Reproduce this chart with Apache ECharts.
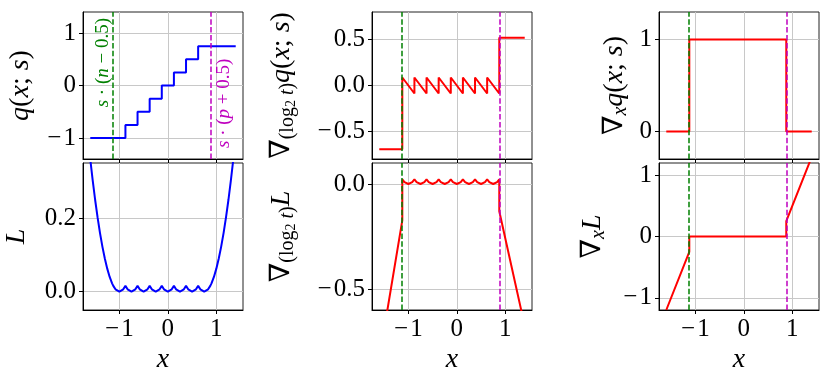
<!DOCTYPE html>
<html>
<head>
<meta charset="utf-8">
<script src="https://cdn.jsdelivr.net/npm/echarts@6/dist/echarts.min.js"></script>
<style>
html, body { margin: 0; padding: 0; background: #fff; }
#chart { width: 831px; height: 381px; }
</style>
</head>
<body>
<div id="chart"></div>
<script>
// clipping borders: s*(n-0.5) and s*(p+0.5)
var clipLo = -1.125, clipHi = 0.875;

var xTicks = [-1, 0, 1];

// q(x; s)
var qX = [-1.6, -0.875, -0.625, -0.375, -0.125, 0.125, 0.375, 0.625, 1.4];
var qY = [-1, -0.75, -0.5, -0.25, 0, 0.25, 0.5, 0.75, 0.75];

// L
var lossX = [
	-1.6, -1.55, -1.5, -1.45, -1.4, -1.35, -1.3, -1.25, -1.2, -1.15,
	-1.125, -1.08, -1.04, -1, -0.96, -0.92,
	-0.875, -0.83, -0.79, -0.75, -0.71, -0.67,
	-0.625, -0.58, -0.54, -0.5, -0.46, -0.42,
	-0.375, -0.33, -0.29, -0.25, -0.21, -0.17,
	-0.125, -0.08, -0.04, 0, 0.04, 0.08,
	0.125, 0.17, 0.21, 0.25, 0.29, 0.33,
	0.375, 0.42, 0.46, 0.5, 0.54, 0.58,
	0.625, 0.67, 0.71, 0.75, 0.79, 0.83,
	0.875, 0.9, 0.95, 1, 1.05, 1.1, 1.15, 1.2, 1.25, 1.3, 1.35, 1.4
];
var lossY = [
	0.36, 0.3025, 0.25, 0.2025, 0.16, 0.1225, 0.09, 0.0625, 0.04, 0.0225,
	0.0156, 0.0064, 0.0016, 0, 0.0016, 0.0064,
	0.0156, 0.0064, 0.0016, 0, 0.0016, 0.0064,
	0.0156, 0.0064, 0.0016, 0, 0.0016, 0.0064,
	0.0156, 0.0064, 0.0016, 0, 0.0016, 0.0064,
	0.0156, 0.0064, 0.0016, 0, 0.0016, 0.0064,
	0.0156, 0.0064, 0.0016, 0, 0.0016, 0.0064,
	0.0156, 0.0064, 0.0016, 0, 0.0016, 0.0064,
	0.0156, 0.0064, 0.0016, 0, 0.0016, 0.0064,
	0.0156, 0.0225, 0.04, 0.0625, 0.09, 0.1225, 0.16, 0.2025, 0.25, 0.3025, 0.36, 0.4225
];

// grad wrt log2 t of q
var gqX = [-1.6, -1.125, -1.125, -0.875, -0.875, -0.625, -0.625, -0.375, -0.375,
	-0.125, -0.125, 0.125, 0.125, 0.375, 0.375, 0.625, 0.625, 0.875, 0.875, 1.4];
var gqY = [-0.693, -0.693, 0.087, -0.087, 0.087, -0.087, 0.087, -0.087, 0.087,
	-0.087, 0.087, -0.087, 0.087, -0.087, 0.087, -0.087, 0.087, -0.087, 0.52, 0.52];

// grad wrt log2 t of L
var gLX = [
	-1.6, -1.125,
	-1.125, -1.08, -1.04, -1, -0.96, -0.92,
	-0.875, -0.83, -0.79, -0.75, -0.71, -0.67,
	-0.625, -0.58, -0.54, -0.5, -0.46, -0.42,
	-0.375, -0.33, -0.29, -0.25, -0.21, -0.17,
	-0.125, -0.08, -0.04, 0, 0.04, 0.08,
	0.125, 0.17, 0.21, 0.25, 0.29, 0.33,
	0.375, 0.42, 0.46, 0.5, 0.54, 0.58,
	0.625, 0.67, 0.71, 0.75, 0.79, 0.83,
	0.875, 0.875, 1.4
];
var gLY = [
	-0.832, -0.173,
	0.0217, 0.0089, 0.0022, 0, 0.0022, 0.0089,
	0.0217, 0.0089, 0.0022, 0, 0.0022, 0.0089,
	0.0217, 0.0089, 0.0022, 0, 0.0022, 0.0089,
	0.0217, 0.0089, 0.0022, 0, 0.0022, 0.0089,
	0.0217, 0.0089, 0.0022, 0, 0.0022, 0.0089,
	0.0217, 0.0089, 0.0022, 0, 0.0022, 0.0089,
	0.0217, 0.0089, 0.0022, 0, 0.0022, 0.0089,
	0.0217, 0.0089, 0.0022, 0, 0.0022, 0.0089,
	0.0217, -0.13, -0.676
];

// grad wrt x of q
var dqX = [-1.6, -1.125, -1.125, 0.875, 0.875, 1.4];
var dqY = [0, 0, 1, 1, 0, 0];

// grad wrt x of L
var dLX = [-1.6, -1.125, -1.125, 0.875, 0.875, 1.4];
var dLY = [-1.2, -0.25, 0, 0, 0.25, 1.3];

var serif = '"Liberation Serif", "DejaVu Serif", serif';
var green = '#008000', magenta = '#bf00bf';

var nameRich = {
	n: { fontSize: 28, fontFamily: serif, lineHeight: 32, color: '#000' },
	i: { fontSize: 28, fontFamily: serif, fontStyle: 'italic', lineHeight: 32, color: '#000' },
	s: { fontSize: 20, fontFamily: serif, lineHeight: 15, verticalAlign: 'bottom', color: '#000' },
	si: { fontSize: 20, fontFamily: serif, fontStyle: 'italic', lineHeight: 15, verticalAlign: 'bottom', color: '#000' },
	ss: { fontSize: 14, fontFamily: serif, lineHeight: 6, verticalAlign: 'bottom', color: '#000' }
};

var grids = [
	{ left: 83, top: 12 }, { left: 83, top: 163 },
	{ left: 372, top: 12 }, { left: 372, top: 163 },
	{ left: 659, top: 12 }, { left: 659, top: 163 }
].map(function (g) {
	return { left: g.left, top: g.top, width: 160, height: 147, show: true,
		borderColor: '#222', borderWidth: 1, backgroundColor: 'transparent' };
});

function fmt(dec) {
	return function (v) {
		var s = Math.abs(v).toFixed(dec);
		return (v < 0 ? '\u2212\u200a' : '') + s;
	};
}

function xAxis(i, bottom) {
	return {
		type: 'value', gridIndex: i, min: -1.75, max: 1.55,
		axisLine: { show: true, onZero: false, lineStyle: { color: '#000', width: 1 } },
		axisTick: { show: true, inside: false, length: 4, customValues: xTicks, lineStyle: { color: '#000' } },
		axisLabel: { show: bottom, customValues: xTicks, formatter: fmt(0), margin: 7,
			fontFamily: serif, fontSize: 25, color: '#000' },
		splitLine: { show: true, lineStyle: { color: '#c8c8c8', width: 1 } },
		name: bottom ? '{i|x}' : '', nameLocation: 'middle', nameGap: 34,
		nameTextStyle: { rich: nameRich }
	};
}

function yAxis(i, min, max, ticks, dec, name, gap) {
	return {
		type: 'value', gridIndex: i, min: min, max: max,
		axisLine: { show: true, onZero: false, lineStyle: { color: '#000', width: 1 } },
		axisTick: { show: true, inside: false, length: 4, customValues: ticks, lineStyle: { color: '#000' } },
		axisLabel: { customValues: ticks, formatter: fmt(dec), margin: 7,
			fontFamily: serif, fontSize: 25, color: '#000' },
		splitLine: { show: true, lineStyle: { color: '#c8c8c8', width: 1 } },
		name: name, nameLocation: 'middle', nameRotate: 90, nameGap: gap,
		nameTextStyle: { rich: nameRich }
	};
}

function pairs(xs, ys) {
	return xs.map(function (x, k) { return [x, ys[k]]; });
}

function curve(i, xs, ys, color, step) {
	return {
		type: 'line', xAxisIndex: i, yAxisIndex: i, data: pairs(xs, ys),
		step: step || false, showSymbol: false, symbol: 'none', z: 2,
		lineStyle: { color: color, width: 2 }
	};
}

var labelRich = {
	a: { fontFamily: serif, fontStyle: 'italic', fontSize: 19 },
	b: { fontFamily: serif, fontSize: 19 }
};

function borders(i, withText) {
	return {
		type: 'line', xAxisIndex: i, yAxisIndex: i, data: [], z: 5,
		markLine: {
			silent: true, symbol: ['none', 'none'], animation: false,
			data: [
				{ xAxis: clipLo, lineStyle: { color: green, type: [5.5, 2.4], width: 1.5 },
					label: { show: withText, position: 'insideEndTop', distance: [6, 1], color: green,
						formatter: '{a|s}{b| \u00b7 (}{a|n}{b| \u2212 0.5)}', rich: labelRich } },
				{ xAxis: clipHi, lineStyle: { color: magenta, type: [5.5, 2.4], width: 1.5 },
					label: { show: withText, position: 'insideStartBottom', distance: [11, 4], color: magenta,
						formatter: '{a|s}{b| \u00b7 (}{a|p}{b| + 0.5)}', rich: labelRich } }
			]
		}
	};
}

var chart = echarts.init(document.getElementById('chart'));
chart.setOption({
	animation: false,
	grid: grids,
	xAxis: [xAxis(0, false), xAxis(1, true), xAxis(2, false), xAxis(3, true), xAxis(4, false), xAxis(5, true)],
	yAxis: [
		yAxis(0, -1.4, 1.4, [-1, 0, 1], 0, '{i|q}{n|(}{i|x}{n|; }{i|s}{n|)}', 46),
		yAxis(1, -0.05, 0.35, [0, 0.2], 1, '{i|L}', 50),
		yAxis(2, -0.8, 0.8, [-0.5, 0, 0.5], 1,
			'{n|\u2207}{s|(log}{ss|2}{si| t}{s|)}{i|q}{n|(}{i|x}{n|; }{i|s}{n|)}', 74),
		yAxis(3, -0.6, 0.1, [-0.5, 0], 1, '{n|\u2207}{s|(log}{ss|2}{si| t}{s|)}{i|L}', 74),
		yAxis(4, -0.3, 1.3, [0, 1], 0, '{n|\u2207}{si|x}{i|q}{n|(}{i|x}{n|; }{i|s}{n|)}', 28),
		yAxis(5, -1.2, 1.2, [-1, 0, 1], 0, '{n|\u2207}{si|x}{i|L}', 50)
	],
	series: [
		curve(0, qX, qY, '#0000ff', 'end'),
		curve(1, lossX, lossY, '#0000ff'),
		curve(2, gqX, gqY, '#ff0000'),
		curve(3, gLX, gLY, '#ff0000'),
		curve(4, dqX, dqY, '#ff0000'),
		curve(5, dLX, dLY, '#ff0000'),
		borders(0, true),
		borders(2, false),
		borders(3, false),
		borders(4, false),
		borders(5, false)
	]
});
</script>
</body>
</html>
